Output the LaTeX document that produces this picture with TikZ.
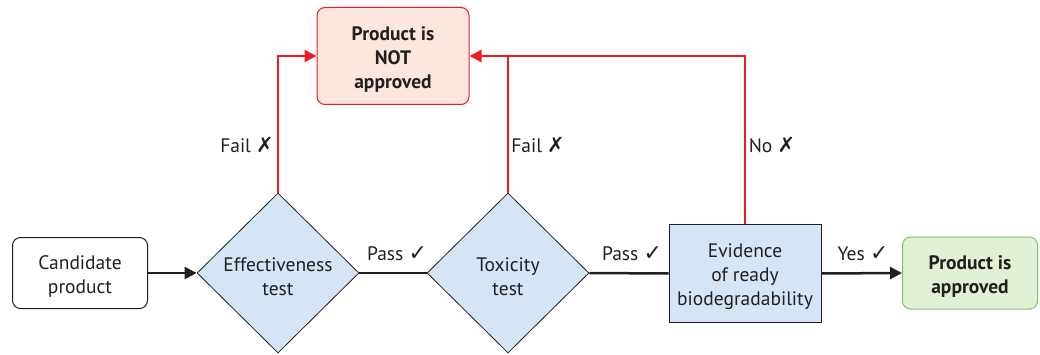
\documentclass[tikz,border=0pt]{standalone}
\usepackage{fontspec}
\setmainfont{PT Sans}
\newfontfamily\symf{DejaVu Sans}
\usetikzlibrary{shapes.geometric,arrows.meta}
\definecolor{ink}{HTML}{231F20}
\definecolor{redl}{HTML}{ED1C24}
\definecolor{bluef}{HTML}{D5E5F5}
\definecolor{redf}{HTML}{FDE6DD}
\definecolor{greenf}{HTML}{E2F0D6}
\definecolor{greenl}{HTML}{7DC36A}
\newcommand{\ck}{{\symf\bfseries\fontsize{22}{24}\selectfont\char"2713}}
\newcommand{\xk}{{\symf\bfseries\itshape\fontsize{21}{24}\selectfont\char"2717}}
\newcommand{\dn}{\rule{0pt}{21pt}}
\begin{document}
\begin{tikzpicture}[x=1pt,y=-1pt,
  every node/.style={text=ink,font=\fontsize{19.5}{24}\selectfont,align=center,inner sep=0pt},
  startbox/.style={draw=ink,line width=1pt,rounded corners=8pt,fill=white,minimum width=135pt,minimum height=71pt},
  testdia/.style={diamond,draw=ink,line width=0.8pt,fill=bluef,minimum width=162pt,minimum height=160pt},
  evbox/.style={draw=ink,line width=1pt,fill=bluef,minimum width=152pt,minimum height=97pt},
  nobox/.style={draw=redl,line width=1pt,rounded corners=8pt,fill=redf,minimum width=152pt,minimum height=97pt,font=\fontsize{19.5}{24}\selectfont\bfseries},
  yesbox/.style={draw=greenl,line width=1pt,rounded corners=8pt,fill=greenf,minimum width=135pt,minimum height=72pt,font=\fontsize{19.5}{24}\selectfont\bfseries},
  blk/.style={draw=ink,line width=2.5pt},
  redline/.style={draw=redl,line width=2.5pt},
  tip/.style={-{Triangle[length=12pt,width=12pt]}},
  lbl/.style={anchor=center}
]
\useasboundingbox (0,0) rectangle (1040,355);
\node[startbox] (cand) at (80,273) {\dn Candidate\\product};
\node[testdia] (eff) at (278,273) {\dn Effectiveness\\test};
\node[testdia] (tox) at (508,273) {\dn Toxicity\\test};
\node[evbox] (ev) at (745,273.5) {\dn Evidence\\of ready\\biodegradability};
\node[nobox] (no) at (393,56) {\dn Product is\\NOT\\approved};
\node[yesbox] (yes) at (970,273) {\dn Product is\\approved};

\coordinate (c1) at (eff.north |- no.west);
\coordinate (c2) at (tox.north |- no.east);
\coordinate (c3) at (ev.north |- no.east);

\draw[blk,tip] (cand.east) -- (eff.west);
\draw[blk] (eff.east) -- (tox.west);
\draw[blk] (tox.east) -- (ev.west);
\draw[blk,tip] (ev.east) -- (yes.west);

\draw[redline,tip] (eff.north) -- (c1) -- (no.west);
\draw[redline] (tox.north) -- (c2);
\draw[redline,tip] (ev.north) -- (c3) -- (no.east);

\node[lbl] (l1) at (397,254) {Pass \ck};
\node[lbl] (l2) at (632,254) {Pass \ck};
\node[lbl] (l3) at (863,254) {Yes \ck};
\node[lbl] (l4) at (247,145) {Fail \xk};
\node[lbl] (l5) at (538,145) {Fail \xk};
\node[lbl] (l6) at (772,145) {No \xk};
\end{tikzpicture}
\end{document}
